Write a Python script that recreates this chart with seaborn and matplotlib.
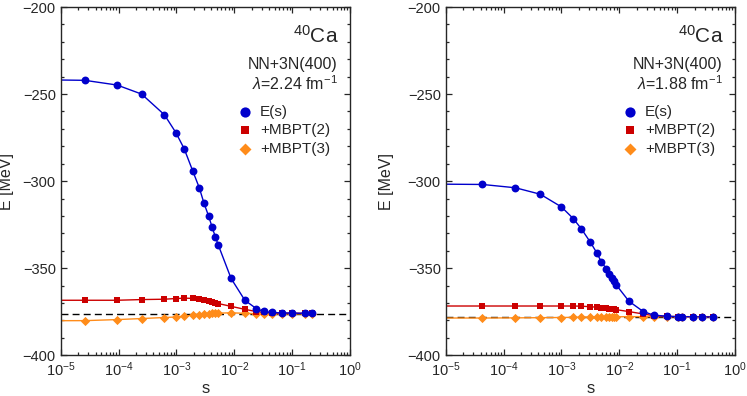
import numpy as np
import pandas as pd
import seaborn as sns
import matplotlib.pyplot as plt
from matplotlib.ticker import LogLocator, MultipleLocator, NullFormatter

# Data (first entry = starting value, s -> 0)
s_left = [1e-6, 2.6e-5, 9.4e-5, 2.5e-4, 6.2e-4, 9.8e-4, 1.36e-3, 1.9e-3, 2.48e-3, 3.0e-3,
          3.6e-3, 4.15e-3, 4.7e-3, 5.3e-3, 8.8e-3, 1.52e-2, 2.4e-2, 3.2e-2, 4.4e-2, 6.6e-2,
          9.8e-2, 1.66e-1, 2.16e-1]
E_left = [-241.5, -242.1, -244.8, -250.0, -261.9, -272.2, -281.4, -293.9, -303.8, -312.8,
          -320.1, -326.6, -332.0, -336.8, -355.9, -368.4, -373.2, -374.8, -375.4, -375.7,
          -375.8, -375.9, -375.9]
mbpt2_left = [-368.4, -368.4, -368.4, -368.0, -367.8, -367.4, -367.2, -367.3, -367.6, -368.0,
              -368.6, -369.2, -369.8, -370.3, -371.9, -373.6, -374.9, -375.4, -375.7, -375.8,
              -375.8, -375.9, -375.9]
mbpt3_left = [-380.2, -380.1, -379.5, -378.9, -378.3, -378.0, -377.5, -377.0, -376.7, -376.4,
              -376.2, -376.0, -375.9, -375.8, -375.6, -375.9, -376.1, -376.2, -376.2, -376.2,
              -376.2, -376.2, -376.2]
ref_left = -376.3
lam_left = "2.24"

s_right = [1e-6, 4.3e-5, 1.6e-4, 4.3e-4, 1.0e-3, 1.6e-3, 2.2e-3, 3.15e-3, 4.07e-3, 4.9e-3,
           6.0e-3, 6.7e-3, 7.4e-3, 8.1e-3, 8.8e-3, 1.47e-2, 2.6e-2, 3.9e-2, 6.6e-2, 1.05e-1,
           1.2e-1, 1.9e-1, 2.65e-1, 4.2e-1]
E_right = [-301.5, -301.9, -303.8, -307.5, -314.8, -321.5, -327.3, -335.0, -341.1, -346.5,
           -350.3, -353.6, -355.7, -357.6, -359.5, -369.0, -374.9, -376.9, -377.6, -377.8,
           -377.8, -377.9, -377.9, -378.0]
mbpt2_right = [-371.7, -371.7, -371.7, -371.7, -371.7, -371.7, -371.8, -372.1, -372.4, -372.7,
               -373.0, -373.2, -373.4, -373.6, -373.8, -374.9, -376.3, -377.2, -377.7, -377.8,
               -377.8, -377.9, -377.9, -378.0]
mbpt3_right = [-378.6, -378.6, -378.5, -378.4, -378.3, -378.2, -378.1, -378.0, -378.0, -377.9,
               -377.9, -377.9, -377.9, -377.9, -377.9, -377.8, -377.8, -377.8, -377.8, -377.8,
               -377.8, -377.8, -377.8, -377.8]
ref_right = -378.1
lam_right = "1.88"

sns.set_style("ticks")
plt.rcParams['font.family'] = ['Liberation Sans', 'DejaVu Sans']
plt.rcParams['mathtext.fontset'] = 'custom'
plt.rcParams['mathtext.rm'] = 'Liberation Sans'
plt.rcParams['mathtext.it'] = 'Liberation Sans:italic'
plt.rcParams['xtick.direction'] = 'in'
plt.rcParams['ytick.direction'] = 'in'

blue = '#0000cc'
red = '#cc0000'
orange = '#ff8c1a'

fig = plt.figure(figsize=(7.47, 3.96), dpi=100)
ax1 = fig.add_axes([0.0813, 0.1028, 0.3873, 0.8795])
ax2 = fig.add_axes([0.5967, 0.1028, 0.3873, 0.8795])


def draw(ax, s, e, m2, m3, ref, lam, ylab_x):
    df = pd.DataFrame({'s': s, 'E': e, 'm2': m2, 'm3': m3})
    for col, c in [('m3', orange), ('m2', red), ('E', blue)]:
        sns.lineplot(data=df, x='s', y=col, color=c, lw=1, sort=False, estimator=None, ax=ax)
    ax.axhline(ref, color='k', ls=(0, (5, 3)), lw=1, zorder=1)
    sns.scatterplot(data=df, x='s', y='m3', color=orange, marker='D', s=22, linewidth=0,
                    label='+MBPT(3)', ax=ax, zorder=3)
    sns.scatterplot(data=df, x='s', y='m2', color=red, marker='s', s=22, linewidth=0,
                    label='+MBPT(2)', ax=ax, zorder=4)
    sns.scatterplot(data=df, x='s', y='E', color=blue, marker='o', s=32, linewidth=0,
                    label='E(s)', ax=ax, zorder=5)
    ax.set_xscale('log')
    ax.set_xlim(1e-5, 1)
    ax.set_ylim(-400, -200)
    ax.xaxis.set_major_locator(LogLocator(base=10, numticks=10))
    ax.xaxis.set_minor_locator(LogLocator(base=10, subs=np.arange(2, 10), numticks=20))
    ax.xaxis.set_minor_formatter(NullFormatter())
    ax.yaxis.set_major_locator(MultipleLocator(50))
    ax.yaxis.set_minor_locator(MultipleLocator(10))
    ax.tick_params(which='both', top=True, right=True, labelsize=10.5, width=0.9)
    ax.tick_params(which='major', length=4.5)
    ax.tick_params(which='minor', length=2.5)
    for sp in ax.spines.values():
        sp.set_linewidth(1.0)
    ax.set_xlabel('s', fontsize=12, va='baseline')
    ax.set_ylabel('E [MeV]', fontsize=11.5)
    ax.xaxis.set_label_coords(0.5, -0.108)
    ax.yaxis.set_label_coords(ylab_x, 0.5)

    ax.text(0.962, 0.897, r'$^{40}$Ca', transform=ax.transAxes, ha='right', va='baseline',
            fontsize=15)
    ax.text(0.958, 0.836, 'NN+3N(400)', transform=ax.transAxes, ha='right', va='center',
            fontsize=11.5)
    ax.text(0.958, 0.779, r'$\mathit{\lambda}$=' + lam + r' fm$^{-1}$', transform=ax.transAxes,
            ha='right', va='center', fontsize=11.5)

    h, l = ax.get_legend_handles_labels()
    ax.legend(h[::-1], l[::-1], loc='upper left', bbox_to_anchor=(0.609, 0.719),
              frameon=False, fontsize=11, borderpad=0, borderaxespad=0, handlelength=1,
              handletextpad=0.5, labelspacing=0.3, markerscale=1.3)


draw(ax1, s_left, E_left, mbpt2_left, mbpt3_left, ref_left, lam_left, -0.160)
draw(ax2, s_right, E_right, mbpt2_right, mbpt3_right, ref_right, lam_right, -0.179)

fig.savefig('out.png', dpi=100)
